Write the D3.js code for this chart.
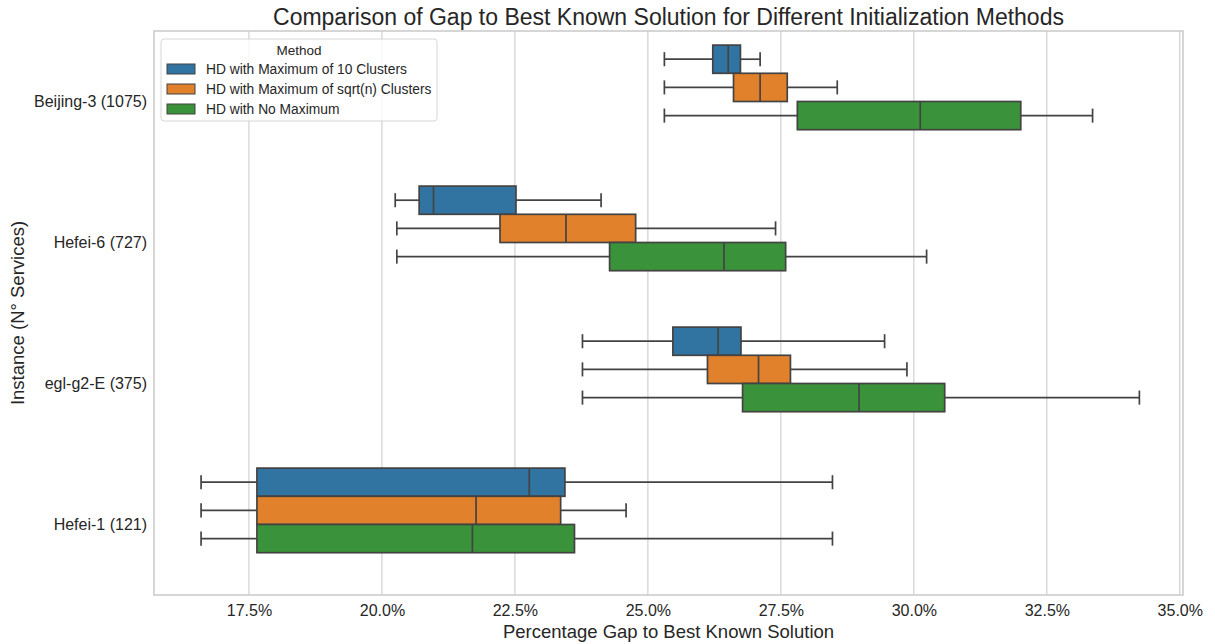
<!DOCTYPE html>
<html>
<head>
<meta charset="utf-8">
<script src="https://cdn.jsdelivr.net/npm/d3@7"></script>
<style>
  html, body { margin: 0; padding: 0; background: #ffffff; }
  svg { display: block; font-family: "Liberation Sans", Arial, sans-serif; }
</style>
</head>
<body>
<svg id="chart" width="1215" height="644"></svg>
<script>
// Instances, top to bottom
const categories = ["Beijing-3 (1075)", "Hefei-6 (727)", "egl-g2-E (375)", "Hefei-1 (121)"];

// Initialization methods (hue)
const methods = [
  "HD with Maximum of 10 Clusters",
  "HD with Maximum of sqrt(n) Clusters",
  "HD with No Maximum"
];
const methodColors = ["#3274a1", "#e1812c", "#3a923a"];

// Box statistics per instance: [whisker low, Q1, median, Q3, whisker high] in percent
const tenClusters = [
  [25.31, 26.22, 26.51, 26.74, 27.11],
  [20.25, 20.70, 20.97, 22.52, 24.12],
  [23.77, 25.47, 26.32, 26.75, 29.45],
  [16.60, 17.65, 22.77, 23.44, 28.47]
];
const sqrtClusters = [
  [25.31, 26.61, 27.11, 27.62, 28.56],
  [20.28, 22.22, 23.46, 24.77, 27.40],
  [23.77, 26.12, 27.08, 27.68, 29.87],
  [16.60, 17.65, 21.77, 23.36, 24.59]
];
const noMaximum = [
  [25.31, 27.81, 30.12, 32.01, 33.36],
  [20.28, 24.28, 26.43, 27.59, 30.24],
  [23.77, 26.78, 28.97, 30.58, 34.24],
  [16.60, 17.65, 21.70, 23.62, 28.47]
];

const xTicks = [17.5, 20.0, 22.5, 25.0, 27.5, 30.0, 32.5, 35.0];
const xLimits = [15.715, 35.06];

const seriesStats = [tenClusters, sqrtClusters, noMaximum];

const margin = { left: 154, right: 1183, top: 31, bottom: 595 };
const textColor = "#262626";
const lineColor = "#434343";
const gridColor = "#cccccc";

const svg = d3.select("#chart");

const x = d3.scaleLinear().domain(xLimits).range([margin.left, margin.right]);

const y = d3.scaleBand().domain(categories).range([margin.top, margin.bottom]).paddingInner(0).paddingOuter(0);
// Each method takes a 0.2-band slot; the group is laid out as four slots with the last left empty
const hue = d3.scaleBand().domain(methods)
  .range([y.bandwidth() * 0.1, y.bandwidth() * 0.7]);

// Gridlines
svg.append("g").selectAll("line").data(xTicks).join("line")
  .attr("x1", d => x(d)).attr("x2", d => x(d))
  .attr("y1", margin.top).attr("y2", margin.bottom)
  .attr("stroke", gridColor).attr("stroke-width", 1.1);

// Frame
svg.append("rect")
  .attr("x", margin.left).attr("y", margin.top)
  .attr("width", margin.right - margin.left).attr("height", margin.bottom - margin.top)
  .attr("fill", "none").attr("stroke", gridColor).attr("stroke-width", 1.6);

// Boxes
const boxH = hue.bandwidth();
const capH = boxH * 0.5;
methods.forEach((m, mi) => {
  const g = svg.append("g");
  const stats = seriesStats[mi];
  categories.forEach((c, ci) => {
    const [wlo, q1, med, q3, whi] = stats[ci];
    const top = y(c) + hue(m);
    const cy = top + boxH / 2;
    const lineAttrs = sel => sel.attr("stroke", lineColor).attr("stroke-width", 1.7).attr("fill", "none");
    // whiskers
    g.append("line").attr("x1", x(wlo)).attr("x2", x(q1)).attr("y1", cy).attr("y2", cy).call(lineAttrs);
    g.append("line").attr("x1", x(q3)).attr("x2", x(whi)).attr("y1", cy).attr("y2", cy).call(lineAttrs);
    // caps
    g.append("line").attr("x1", x(wlo)).attr("x2", x(wlo)).attr("y1", cy - capH / 2).attr("y2", cy + capH / 2).call(lineAttrs);
    g.append("line").attr("x1", x(whi)).attr("x2", x(whi)).attr("y1", cy - capH / 2).attr("y2", cy + capH / 2).call(lineAttrs);
    // box
    g.append("rect")
      .attr("x", x(q1)).attr("y", top)
      .attr("width", x(q3) - x(q1)).attr("height", boxH)
      .attr("fill", methodColors[mi]).attr("stroke", lineColor).attr("stroke-width", 1.7);
    // median
    g.append("line").attr("x1", x(med)).attr("x2", x(med)).attr("y1", top).attr("y2", top + boxH).call(lineAttrs);
  });
});

// x axis
const xAxis = d3.axisBottom(x).tickValues(xTicks).tickSize(0).tickPadding(10)
  .tickFormat(d => d3.format(".1f")(d) + "%");
const gx = svg.append("g").attr("transform", `translate(0,${margin.bottom})`).call(xAxis);
gx.select(".domain").remove();
gx.selectAll("text").attr("fill", textColor).attr("font-size", 16).attr("font-family", "Liberation Sans, Arial, sans-serif");

// y axis
const yAxis = d3.axisLeft(y).tickSize(0).tickPadding(7);
const gy = svg.append("g").attr("transform", `translate(${margin.left},0)`).call(yAxis);
gy.select(".domain").remove();
gy.selectAll("text").attr("fill", textColor).attr("font-size", 16).attr("font-family", "Liberation Sans, Arial, sans-serif");

// Title and axis labels
svg.append("text")
  .attr("x", (margin.left + margin.right) / 2).attr("y", 25)
  .attr("text-anchor", "middle").attr("fill", textColor).attr("font-size", 23)
  .text("Comparison of Gap to Best Known Solution for Different Initialization Methods");

svg.append("text")
  .attr("x", (margin.left + margin.right) / 2).attr("y", 638)
  .attr("text-anchor", "middle").attr("fill", textColor).attr("font-size", 18.5)
  .text("Percentage Gap to Best Known Solution");

svg.append("text")
  .attr("transform", `translate(24,${(margin.top + margin.bottom) / 2}) rotate(-90)`)
  .attr("text-anchor", "middle").attr("fill", textColor).attr("font-size", 18.5)
  .text("Instance (N° Services)");

// Legend
const legend = svg.append("g").attr("transform", "translate(161,39)");
legend.append("rect")
  .attr("x", 0).attr("y", 0).attr("width", 276).attr("height", 82).attr("rx", 3)
  .attr("fill", "#ffffff").attr("fill-opacity", 0.8)
  .attr("stroke", "#d6d6d6").attr("stroke-width", 1);
legend.append("text")
  .attr("x", 138).attr("y", 16).attr("text-anchor", "middle")
  .attr("fill", textColor).attr("font-size", 13.5).text("Method");
methods.forEach((m, i) => {
  const row = legend.append("g").attr("transform", `translate(6,${25 + i * 20})`);
  row.append("rect").attr("x", 0).attr("y", 0).attr("width", 28).attr("height", 10)
    .attr("fill", methodColors[i]).attr("stroke", lineColor).attr("stroke-width", 1);
  row.append("text").attr("x", 39).attr("y", 10).attr("fill", textColor)
    .attr("font-size", 13.8).text(m);
});
</script>
</body>
</html>
